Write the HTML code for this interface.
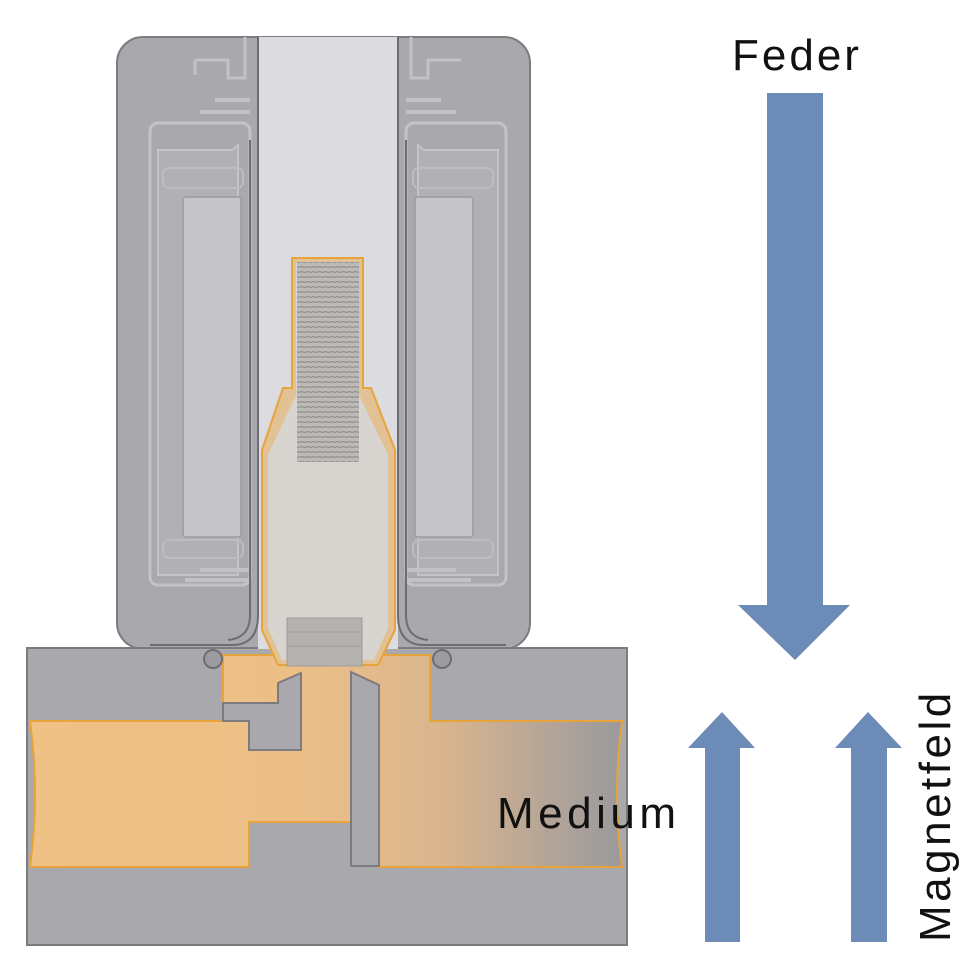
<!DOCTYPE html>
<html><head><meta charset="utf-8"><style>
html,body{margin:0;padding:0;background:#fff;width:980px;height:980px;overflow:hidden}
svg{display:block}
text{font-family:"Liberation Sans",sans-serif;fill:#111}
</style></head><body>
<svg width="980" height="980" viewBox="0 0 980 980" xmlns="http://www.w3.org/2000/svg">
<defs>
<linearGradient id="og" x1="0" x2="1" y1="0" y2="0">
<stop offset="0" stop-color="#efc184"/>
<stop offset="0.45" stop-color="#ecbf87"/>
<stop offset="0.7" stop-color="#d9b58e"/>
<stop offset="1" stop-color="#9a999e"/>
</linearGradient>
<pattern id="spr" width="6" height="5" patternUnits="userSpaceOnUse">
<rect width="6" height="5" fill="#b9b6b3"/>
<path d="M0 1.5 L6 2.5" stroke="#8a8886" stroke-width="1.2"/>
</pattern>
</defs>

<!-- upper housing -->
<rect x="117" y="37" width="413" height="612" rx="26" fill="#a9a8ad" stroke="#7c7b80" stroke-width="2"/>
<path d="M195 60 H228 V78 H245 V37 M195 60 V75" fill="none" stroke="#c2c1c5" stroke-width="3"/>
<path d="M461 60 H428 V78 H411 V37" fill="none" stroke="#c2c1c5" stroke-width="3"/>
<path d="M215 100 H250 M200 112 H250 M441 100 H406 M456 112 H406" stroke="#c2c1c5" stroke-width="4"/>
<rect x="150" y="123" width="100" height="462" rx="8" fill="none" stroke="#c4c3c7" stroke-width="3"/>
<path d="M158 150 H232 L238 145 V575 H158 Z" fill="#b1b0b5" stroke="#c4c3c7" stroke-width="2"/>
<rect x="183" y="197" width="58" height="340" rx="3" fill="#c6c5ca" stroke="#9c9ba0" stroke-width="1.5"/>
<rect x="163" y="168" width="80" height="20" rx="6" fill="none" stroke="#bdbcc0" stroke-width="2"/>
<rect x="163" y="540" width="80" height="18" rx="6" fill="none" stroke="#bdbcc0" stroke-width="2"/>
<rect x="406" y="123" width="100" height="462" rx="8" fill="none" stroke="#c4c3c7" stroke-width="3"/>
<path d="M498 150 H424 L418 145 V575 H498 Z" fill="#b1b0b5" stroke="#c4c3c7" stroke-width="2"/>
<rect x="415" y="197" width="58" height="340" rx="3" fill="#c6c5ca" stroke="#9c9ba0" stroke-width="1.5"/>
<rect x="413" y="168" width="80" height="20" rx="6" fill="none" stroke="#bdbcc0" stroke-width="2"/>
<rect x="413" y="540" width="80" height="18" rx="6" fill="none" stroke="#bdbcc0" stroke-width="2"/>
<path d="M200 570 H250 M185 580 H250 M456 570 H406 M471 580 H406" stroke="#c2c1c5" stroke-width="4"/>

<!-- lower body -->
<rect x="27" y="648" width="600" height="297" fill="#a9a8ad" stroke="#7c7b80" stroke-width="2"/>
<path d="M30 721 H223 V655 H430 V721 H622 Q612 794 622 867 H379 V685 L351 672 V822 H249 V867 H30 Q40 794 30 721 Z" fill="url(#og)" stroke="#e8a33a" stroke-width="2"/>
<path d="M223 703 H278 V683 L301 673 V750 H249 V721 H223 Z" fill="#a9a8ad" stroke="#7c7b80" stroke-width="2"/>
<rect x="28" y="650" width="194" height="70" fill="#a9a8ad"/>
<rect x="431" y="650" width="195" height="70" fill="#a9a8ad"/>
<path d="M351 672 L379 685 V866 H351 Z" fill="#a9a8ad" stroke="#7c7b80" stroke-width="2"/>

<!-- tube -->
<rect x="258" y="37" width="140" height="612" fill="#dcdbe0"/>
<path d="M258 37 V615 Q258 645 232 645 H150" fill="none" stroke="#6e6d73" stroke-width="2"/>
<path d="M250 140 V615 Q250 638 228 640" fill="none" stroke="#6e6d73" stroke-width="2"/>
<path d="M398 37 V615 Q398 645 424 645 H506" fill="none" stroke="#6e6d73" stroke-width="2"/>
<path d="M406 140 V615 Q406 638 428 640" fill="none" stroke="#6e6d73" stroke-width="2"/>
<!-- armature -->
<path d="M292 258 H363 V388 H371 L395 450 V630 L378 665 H278 L262 630 V450 L283 388 H292 Z" fill="#e2c294" stroke="#e8a33a" stroke-width="2"/>
<path d="M296 262 H359 V395 L388 455 V628 L374 660 H282 L268 628 V455 L296 395 Z" fill="#d8d4d0"/>
<rect x="297" y="262" width="62" height="200" fill="url(#spr)" opacity="0.9"/>
<rect x="287" y="618" width="75" height="48" fill="#b4b1ae" stroke="#a09d9a"/>
<line x1="287" y1="632" x2="362" y2="632" stroke="#a09d9a"/>
<line x1="287" y1="646" x2="362" y2="646" stroke="#a09d9a"/>
<circle cx="213" cy="659" r="9" fill="#9c9ba0" stroke="#6e6d73" stroke-width="2"/>
<circle cx="442" cy="659" r="9" fill="#9c9ba0" stroke="#6e6d73" stroke-width="2"/>

<g fill="#6d8bb7">
<path d="M767 93 H823 V605 H850 L795 660 L738 605 H767 Z"/>
<path d="M705 942 V748 H688 L722 712 L755 748 H740 V942 Z"/>
<path d="M851 942 V748 H835 L868 712 L902 748 H887 V942 Z"/>
</g>

<text x="732" y="70" font-size="44" letter-spacing="3">Feder</text>
<text x="497" y="828" font-size="44" letter-spacing="4.5">Medium</text>
<text transform="translate(950,942) rotate(-90)" font-size="44" letter-spacing="3.5">Magnetfeld</text>
</svg>
</body></html>
